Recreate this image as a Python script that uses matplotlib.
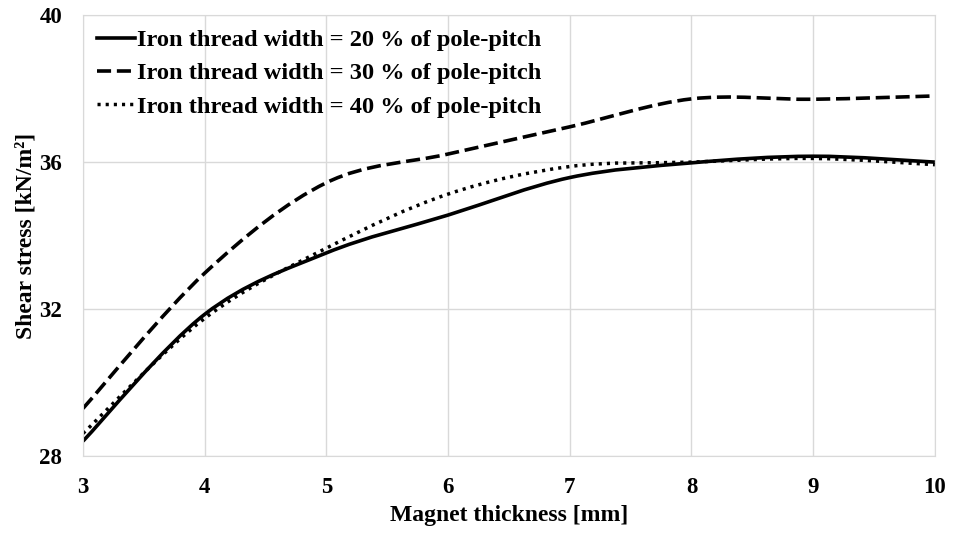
import matplotlib.pyplot as plt
from matplotlib.path import Path
from matplotlib.patches import PathPatch
from matplotlib.lines import Line2D

plt.rcParams['font.family'] = ['Liberation Serif', 'DejaVu Serif']
plt.rcParams['font.weight'] = 'bold'

# magnet thickness [mm] and shear stress [kN/m^2] for each iron thread width
thickness = [3, 4, 5, 6, 7, 8, 9, 10]
stress_20 = [28.41, 31.86, 33.53, 34.56, 35.58, 35.98, 36.16, 36.0]
stress_30 = [29.3, 32.98, 35.44, 36.22, 36.96, 37.72, 37.71, 37.8]
stress_40 = [28.62, 31.75, 33.66, 35.13, 35.88, 36.0, 36.1, 35.93]
labels = ['Iron thread width = 20 % of pole-pitch',
          'Iron thread width = 30 % of pole-pitch',
          'Iron thread width = 40 % of pole-pitch']


def smooth_path(xs, ys):
    # spreadsheet-style smoothed line: cubic Bezier segments through the points
    pts = list(zip(xs, ys))
    verts = [pts[0]]
    codes = [Path.MOVETO]
    n = len(pts)
    for i in range(n - 1):
        p0 = pts[i - 1] if i > 0 else pts[i]
        p1 = pts[i]
        p2 = pts[i + 1]
        p3 = pts[i + 2] if i + 2 < n else pts[i + 1]
        c1 = (p1[0] + (p2[0] - p0[0]) / 6, p1[1] + (p2[1] - p0[1]) / 6)
        c2 = (p2[0] - (p3[0] - p1[0]) / 6, p2[1] - (p3[1] - p1[1]) / 6)
        verts += [c1, c2, p2]
        codes += [Path.CURVE4] * 3
    return Path(verts, codes)


fig = plt.figure(figsize=(9.55, 5.38), dpi=100)
ax = fig.add_axes([0.0869, 0.152, 0.892, 0.82])

styles = [
    dict(linestyle='-', linewidth=2.6),
    dict(linestyle=(0, (3.9, 1.6)), linewidth=2.6),
    dict(linestyle=(0, (0.9, 1.45)), linewidth=2.5),
]
handles = []
for ys, st, lab in zip([stress_20, stress_30, stress_40], styles, labels):
    patch = PathPatch(smooth_path(thickness, ys), fill=False, edgecolor='black',
                      capstyle='butt', **st)
    ax.add_patch(patch)
    handles.append(Line2D([], [], color='black', **st, label=lab))

ax.set_xlim(3, 10)
ax.set_ylim(28, 40)
ax.set_xticks(thickness)
ax.set_yticks([28, 32, 36, 40])
ax.grid(True, color='#d9d9d9', linewidth=1)
ax.set_axisbelow(True)
for sp in ax.spines.values():
    sp.set_color('#d9d9d9')
ax.tick_params(length=0, labelsize=16.5)
ax.tick_params(axis='x', pad=15)
ax.tick_params(axis='y', pad=15)

ax.set_xlabel('Magnet thickness [mm]', fontsize=17, fontweight='bold', labelpad=5)
ax.set_ylabel('Shear stress [kN/m²]', fontsize=17, fontweight='bold', labelpad=2)

ax.legend(handles=handles, loc='upper left', bbox_to_anchor=(0.0164, 0.968),
          frameon=False, fontsize=17.6, handlelength=1.55, handletextpad=0.1,
          borderpad=0, borderaxespad=0, labelspacing=0.45)

fig.savefig('out.png', dpi=100)
